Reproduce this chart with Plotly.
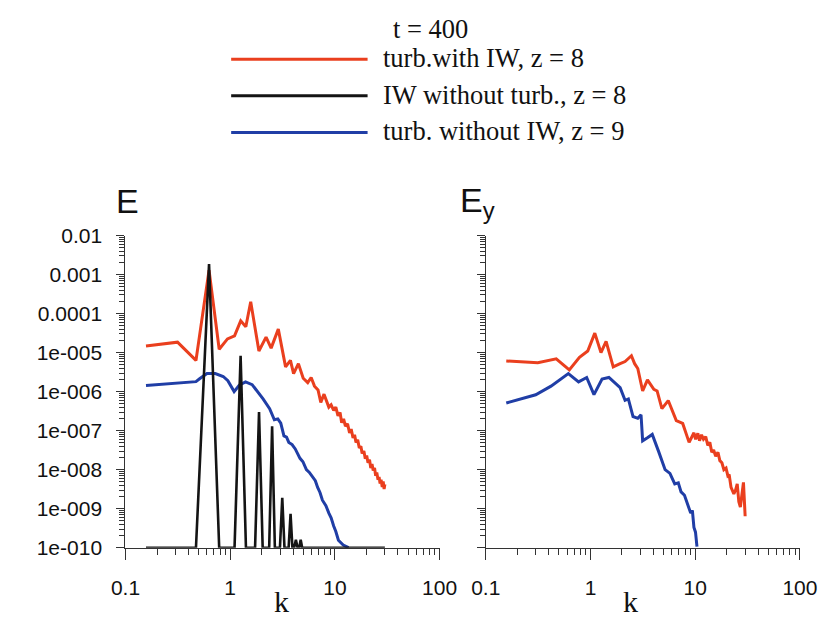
import plotly.graph_objects as go

W, H = 840, 630

# ---------------- data ----------------
# left panel: E(k)
k_red_E = [0.157, 0.314, 0.471, 0.628, 0.785, 0.942, 1.10, 1.26, 1.41, 1.57, 1.88, 2.2, 2.46,
           2.88, 3.38, 3.76, 4.03, 4.48, 4.98, 5.5, 5.93, 6.38, 6.9, 7.33, 7.87, 8.3, 8.75, 9.2,
           9.73, 10.2, 10.7, 11.2, 11.6, 12.1, 12.6, 13.2, 13.8, 14.3, 14.9, 15.4, 15.9, 16.5,
           17.1, 17.7, 18.2, 18.9, 19.5, 20.1, 20.7, 21.4, 22.0, 22.6, 23.2, 23.9, 24.5, 25.1,
           25.8, 26.4, 27.0, 27.6, 28.3, 28.9, 29.5, 30.0]
E_red = [1.47e-5, 1.85e-5, 6.3e-6, 1.3e-3, 1.22e-5, 2.24e-5, 2.7e-5, 6.5e-5, 4.6e-5, 2.0e-4,
         1.1e-5, 2.5e-5, 1.3e-5, 4.0e-5, 4.3e-6, 6.3e-6, 2.9e-6, 5.2e-6, 2.2e-6, 1.7e-6,
         2.3e-6, 1.38e-6, 1.1e-6, 5.3e-7, 8.6e-7, 5.5e-7, 4.0e-7, 4.6e-7, 3.3e-7, 4.0e-7,
         2.4e-7, 2.9e-7, 1.6e-7, 2.0e-7, 1.3e-7, 1.5e-7, 8.8e-8, 1.1e-7, 6.5e-8, 7.8e-8,
         5.0e-8, 5.8e-8, 3.6e-8, 4.0e-8, 2.6e-8, 3.0e-8, 1.9e-8, 2.3e-8, 1.5e-8, 1.8e-8,
         1.1e-8, 1.4e-8, 9.5e-9, 1.1e-8, 7.0e-9, 8.5e-9, 5.5e-9, 6.5e-9, 4.4e-9, 5.5e-9,
         3.6e-9, 5.0e-9, 3.2e-9, 4.2e-9]

k_black_E = [0.157, 0.471, 0.628, 0.785, 1.10, 1.257, 1.414, 1.728, 1.885, 2.042, 2.356,
             2.513, 2.670, 2.985, 3.142, 3.299, 3.613, 3.770, 3.927, 4.08, 4.24, 4.40,
             4.56, 4.71, 4.87, 30.0]
E_black = [1e-10, 1e-10, 1.85e-3, 1e-10, 1e-10, 8.3e-6, 1e-10, 1e-10, 3.0e-7, 1e-10, 1e-10,
           1.3e-7, 1e-10, 1e-10, 1.9e-9, 1e-10, 1e-10, 7.4e-10, 1e-10, 1e-10, 1.6e-10, 1e-10,
           1e-10, 1.6e-10, 1e-10, 1e-10]

k_blue_E = [0.157, 0.471, 0.51, 0.60, 0.72, 0.857, 0.95, 1.09, 1.22, 1.40, 1.62, 1.86, 2.06,
            2.38, 2.64, 2.85, 3.04, 3.26, 3.45, 3.63, 3.9, 4.18, 4.4, 4.64, 4.95, 5.34, 5.7,
            6.15, 6.5, 6.84, 7.2, 7.60, 8.2, 8.75, 9.2, 9.73, 10.2, 10.8, 12.0, 13.5]
E_blue = [1.43e-6, 1.8e-6, 2.13e-6, 2.9e-6, 2.9e-6, 2.44e-6, 1.9e-6, 1.0e-6, 1.46e-6, 1.77e-6,
          1.51e-6, 9.4e-7, 6.5e-7, 3.66e-7, 1.9e-7, 2.0e-7, 1.56e-7, 7.3e-8, 6.8e-8, 5.0e-8,
          4.4e-8, 3.4e-8, 2.6e-8, 1.95e-8, 1.6e-8, 1.0e-8, 8.5e-9, 6.2e-9, 5.2e-9, 3.5e-9,
          2.6e-9, 1.65e-9, 1.2e-9, 7.7e-10, 5.8e-10, 3.6e-10, 2.6e-10, 1.55e-10, 1.17e-10, 1.0e-10]

# right panel: E_y(k)
k_red_Ey = [0.157, 0.314, 0.471, 0.628, 0.785, 0.942, 1.10, 1.26, 1.41, 1.65, 1.92, 2.14,
            2.46, 2.64, 2.83, 3.15, 3.50, 4.03, 4.33, 4.81, 5.53, 5.93, 6.6, 7.6, 8.75, 9.73,
            10.1, 10.6, 11.0, 11.5, 12.0, 12.6, 13.2, 13.8, 14.4, 15.0, 15.7, 16.5, 17.2, 18.0,
            18.8, 19.7, 20.5, 21.1, 22.0, 23.4, 24.3, 25.2, 26.1, 27.0, 28.0, 28.9, 30.0]
Ey_red = [6.1e-6, 5.5e-6, 6.9e-6, 3.6e-6, 7.6e-6, 1.1e-5, 3.15e-5, 1.0e-5, 1.95e-5, 4.3e-6,
          5.2e-6, 5.9e-6, 8.3e-6, 5.2e-6, 3.9e-6, 1.04e-6, 2.0e-6, 1.14e-6, 1.04e-6, 3.66e-7,
          5.9e-7, 3.66e-7, 1.8e-7, 1.53e-7, 5.0e-8, 8.8e-8, 6.0e-8, 8.5e-8, 5.5e-8, 7.8e-8,
          6.0e-8, 7.0e-8, 4.2e-8, 5.0e-8, 2.8e-8, 3.2e-8, 2.2e-8, 2.8e-8, 1.7e-8, 1.5e-8,
          1.0e-8, 1.1e-8, 7.0e-9, 7.5e-9, 3.5e-9, 2.4e-9, 3.0e-9, 4.3e-9, 1.5e-9, 1.1e-9,
          3.0e-9, 4.7e-9, 6.4e-10]

k_blue_Ey = [0.157, 0.30, 0.42, 0.615, 0.77, 0.92, 1.08, 1.29, 1.50, 1.80, 1.92, 2.14, 2.30,
             2.55, 2.83, 3.04, 3.15, 3.50, 3.89, 4.48, 5.16, 5.74, 6.38, 6.9, 7.33, 7.9,
             8.45, 9.06, 9.4, 9.73, 10.07, 10.4]
Ey_blue = [5.1e-7, 8.3e-7, 1.38e-6, 2.9e-6, 1.77e-6, 2.3e-6, 8.4e-7, 2.1e-6, 2.3e-6, 1.51e-6,
           1.26e-6, 6.0e-7, 6.5e-7, 2.3e-7, 2.07e-7, 2.55e-7, 5.5e-8, 6.6e-8, 8.0e-8, 2.9e-8,
           1.0e-8, 8.0e-9, 4.3e-9, 4.6e-9, 2.7e-9, 2.2e-9, 1.37e-9, 7.7e-10, 9.0e-10, 3.3e-10,
           2.5e-10, 1.06e-10]

x_tickvals = [0.1, 1, 10, 100]
x_ticktext = ["0.1", "1", "10", "100"]
y_tickvals = [1e-2, 1e-3, 1e-4, 1e-5, 1e-6, 1e-7, 1e-8, 1e-9, 1e-10]
y_ticktext = ["0.01", "0.001", "0.0001", "1e-005", "1e-006", "1e-007", "1e-008", "1e-009", "1e-010"]

legend_title = "t = 400"
series_names = ["turb.with IW, z = 8", "IW without turb., z = 8", "turb. without IW, z = 9"]

RED = "#ea3f1e"
BLACK = "#141414"
BLUE = "#203ea6"
colors = [RED, BLACK, BLUE]

# ---------------- figure ----------------
fig = go.Figure()
fig.add_trace(go.Scatter(x=k_red_E, y=E_red, mode="lines", line=dict(color=RED, width=3),
                         xaxis="x", yaxis="y", showlegend=False))
fig.add_trace(go.Scatter(x=k_blue_E, y=E_blue, mode="lines", line=dict(color=BLUE, width=3),
                         xaxis="x", yaxis="y", showlegend=False))
fig.add_trace(go.Scatter(x=k_black_E, y=E_black, mode="lines", line=dict(color=BLACK, width=2.6),
                         xaxis="x", yaxis="y", showlegend=False))
fig.add_trace(go.Scatter(x=k_red_Ey, y=Ey_red, mode="lines", line=dict(color=RED, width=3),
                         xaxis="x2", yaxis="y2", showlegend=False))
fig.add_trace(go.Scatter(x=k_blue_Ey, y=Ey_blue, mode="lines", line=dict(color=BLUE, width=3),
                         xaxis="x2", yaxis="y2", showlegend=False))

minor_x = [m * 10 ** e for e in (-1, 0, 1) for m in range(2, 10)]
minor_y = [m * 10.0 ** e for e in range(-10, -2) for m in range(2, 10)]

tick_font = dict(family="Liberation Sans, Arial, sans-serif", size=21, color="#111")
AX = dict(showline=True, linecolor="#333", linewidth=1.4, showgrid=False, zeroline=False,
          ticks="outside", tickcolor="#333", tickwidth=1.2, tickfont=tick_font)

ydom = [74 / H, 398 / H]
fig.update_layout(
    width=W, height=H, margin=dict(l=0, r=0, t=0, b=0),
    paper_bgcolor="white", plot_bgcolor="white",
    xaxis=dict(type="log", range=[-1, 2], domain=[115 / W, 442 / W], anchor="y",
               tickvals=x_tickvals, ticktext=x_ticktext, ticklen=11, ticklabelstandoff=10,
               minor=dict(tickvals=minor_x, ticks="outside", ticklen=6, tickcolor="#333"), **AX),
    yaxis=dict(type="log", range=[-10, -2], domain=ydom, anchor="x",
               tickvals=y_tickvals, ticktext=y_ticktext, ticklen=8, ticklabelstandoff=10,
               minor=dict(tickvals=minor_y, ticks="outside", ticklen=5, tickcolor="#333"), **AX),
    xaxis2=dict(type="log", range=[-1, 2], domain=[490 / W, 817 / W], anchor="y2",
                tickvals=x_tickvals, ticktext=x_ticktext, ticklen=11, ticklabelstandoff=10,
                minor=dict(tickvals=minor_x, ticks="outside", ticklen=6, tickcolor="#333"), **AX),
    yaxis2=dict(type="log", range=[-10, -2], domain=ydom, anchor="x2",
                tickvals=y_tickvals, showticklabels=False, ticklen=8,
                minor=dict(tickvals=minor_y, ticks="outside", ticklen=5, tickcolor="#333"), **AX),
)

serif = "Liberation Serif, Times New Roman, serif"
ann = []
ann.append(dict(text="E", x=103 / W, y=1 - 196 / H, xref="paper", yref="paper", xanchor="left",
                yanchor="middle", showarrow=False,
                font=dict(family="Liberation Sans, Arial", size=34, color="#111")))
ann.append(dict(text="E<sub>y</sub>", x=461 / W, y=1 - 198 / H, xref="paper", yref="paper",
                xanchor="left", yanchor="middle", showarrow=False,
                font=dict(family="Liberation Sans, Arial", size=34, color="#111")))
for xc in (277, 641):
    ann.append(dict(text="k", x=xc / W, y=1 - 612 / H, xref="paper", yref="paper",
                    xanchor="center", yanchor="middle", showarrow=False,
                    font=dict(family=serif, size=30, color="#111")))
ann.append(dict(text=legend_title, x=432 / W, y=1 - 18 / H, xref="paper", yref="paper",
                xanchor="center", yanchor="middle", showarrow=False,
                font=dict(family=serif, size=26.5, color="#111")))
shapes = []
rows_y = [49, 87, 125]
for name, col, ry in zip(series_names, colors, rows_y):
    shapes.append(dict(type="line", xref="paper", yref="paper", x0=225 / W, x1=367 / W,
                       y0=1 - ry / H, y1=1 - ry / H, line=dict(color=col, width=3)))
    ann.append(dict(text=name, x=381 / W, y=1 - (ry - 1) / H, xref="paper", yref="paper",
                    xanchor="left", yanchor="middle", showarrow=False,
                    font=dict(family=serif, size=26.5, color="#111")))

fig.update_layout(annotations=ann, shapes=shapes)
fig.write_html("out.html", config={"displayModeBar": False},
               post_script="document.body.style.margin='0';")
